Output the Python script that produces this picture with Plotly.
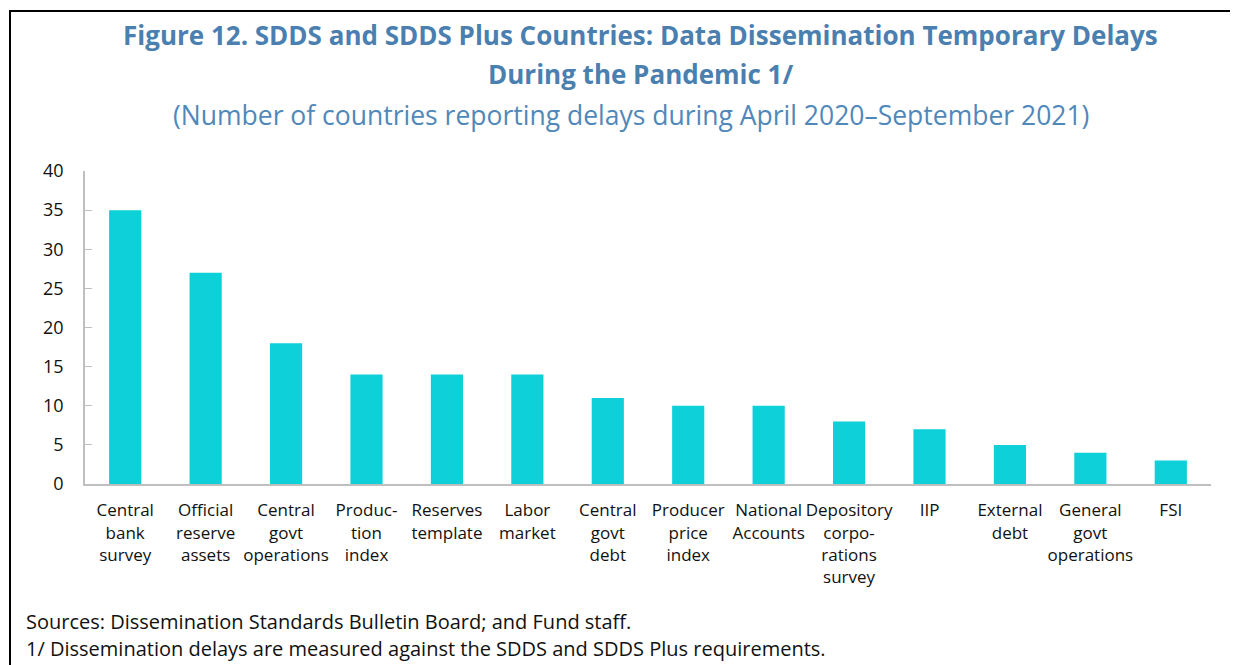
import plotly.graph_objects as go

categories = [
    "Central<br>bank<br>survey", "Official<br>reserve<br>assets", "Central<br>govt<br>operations",
    "Produc-<br>tion<br>index", "Reserves<br>template", "Labor<br>market",
    "Central<br>govt<br>debt", "Producer<br>price<br>index", "National<br>Accounts",
    "Depository<br>corpo-<br>rations<br>survey", "IIP", "External<br>debt",
    "General<br>govt<br>operations", "FSI",
]
delays = [35, 27, 18, 14, 14, 14, 11, 10, 10, 8, 7, 5, 4, 3]
y_ticks = [0, 5, 10, 15, 20, 25, 30, 35, 40]

# page has an 8px body margin, so figure coords = page coords - 8
OFF = 8
W, H = 1222, 657
L, R, T, B = 85 - OFF, 1211 - OFF, 171 - OFF, 484 - OFF  # plot area in figure pixels


def px_x(x):
    # x given in page pixels
    return (x - OFF - L) / (R - L)


def px_y(y):
    return (B - (y - OFF)) / (B - T)


FONT = "Open Sans"
fig = go.Figure(go.Bar(x=categories, y=delays, marker=dict(color="#0dd0d9", line_width=0),
                       hoverinfo="x+y"))

fig.update_layout(
    width=W, height=H,
    margin=dict(l=L, r=W - R, t=T, b=H - B),
    plot_bgcolor="white", paper_bgcolor="white",
    font=dict(family=FONT, size=17, color="#111111"),
    bargap=0.6, showlegend=False,
    xaxis=dict(showline=True, linecolor="#bfbfbf", linewidth=2, ticks="", tickangle=0,
               ticklabelstandoff=10, tickfont=dict(size=17), fixedrange=True),
    yaxis=dict(range=[0, 40], tickvals=y_ticks, showgrid=False, showline=True,
               linecolor="#bfbfbf", linewidth=1.5, ticks="inside", ticklen=7,
               tickcolor="#bfbfbf", ticklabelstandoff=16, tickfont=dict(size=18),
               zeroline=False),
)

# frame: only the left and top edges are inside the picture
fig.add_shape(type="line", xref="paper", yref="paper",
              x0=px_x(10), x1=px_x(10), y0=px_y(700), y1=px_y(10),
              line=dict(color="black", width=2))
fig.add_shape(type="line", xref="paper", yref="paper",
              x0=px_x(9), x1=px_x(1300), y0=px_y(11), y1=px_y(11),
              line=dict(color="black", width=2))

title_color = "#4a7fb0"
fig.add_annotation(text="<b>Figure 12. SDDS and SDDS Plus Countries: Data Dissemination Temporary Delays</b>",
                   xref="paper", yref="paper", x=px_x(640), y=px_y(35), xanchor="center", yanchor="middle",
                   showarrow=False, font=dict(size=26, color=title_color))
fig.add_annotation(text="<b>During the Pandemic 1/</b>",
                   xref="paper", yref="paper", x=px_x(640), y=px_y(74), xanchor="center", yanchor="middle",
                   showarrow=False, font=dict(size=26, color=title_color))
fig.add_annotation(text="(Number of countries reporting delays during April 2020\u2013September 2021)",
                   xref="paper", yref="paper", x=px_x(631), y=px_y(115), xanchor="center", yanchor="middle",
                   showarrow=False, font=dict(size=26.5, color="#5088ba"))
fig.add_annotation(text="Sources: Dissemination Standards Bulletin Board; and Fund staff.",
                   xref="paper", yref="paper", x=px_x(24), y=px_y(621), xanchor="left", yanchor="middle",
                   showarrow=False, font=dict(size=20))
fig.add_annotation(text="1/ Dissemination delays are measured against the SDDS and SDDS Plus requirements.",
                   xref="paper", yref="paper", x=px_x(24), y=px_y(648), xanchor="left", yanchor="middle",
                   showarrow=False, font=dict(size=20))

fig.write_html("out.html")
